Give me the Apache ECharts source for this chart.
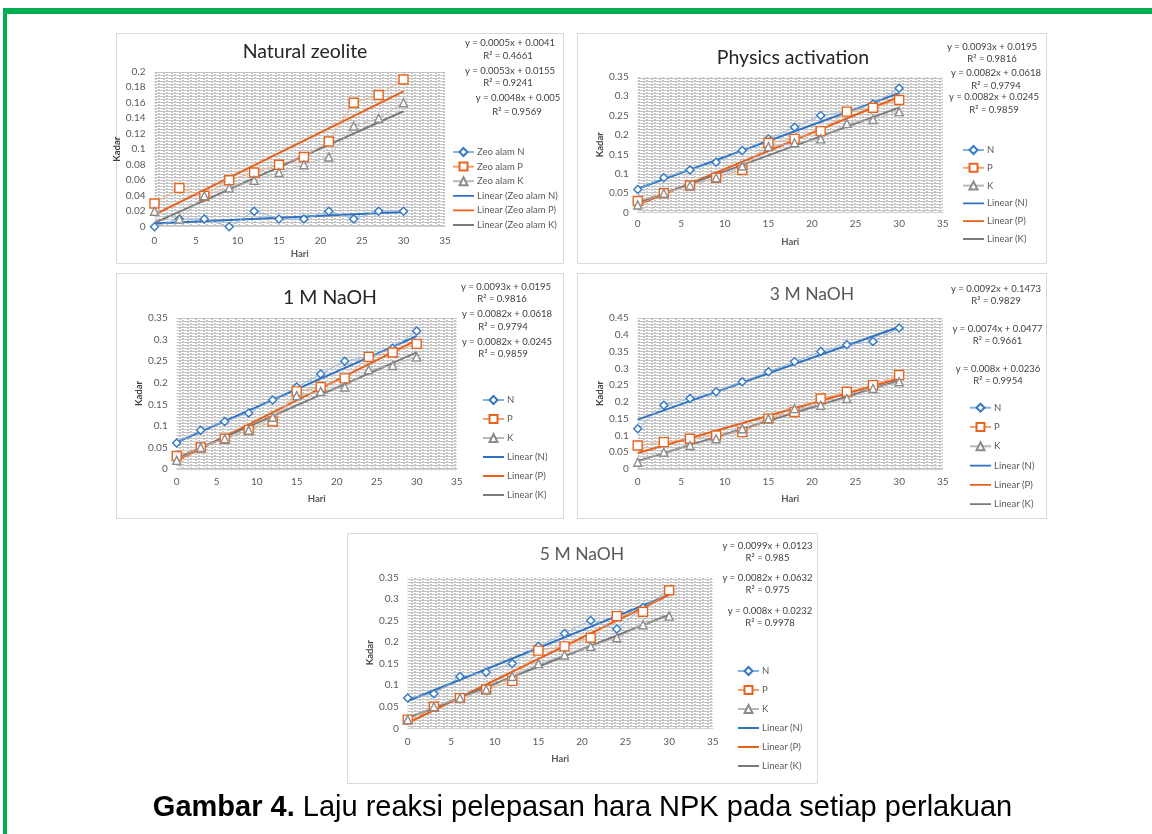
<!DOCTYPE html>
<html><head><meta charset="utf-8">
<script src="https://cdn.jsdelivr.net/npm/echarts@6/dist/echarts.min.js"></script>
<style>html,body{margin:0;padding:0;background:#fff;}#c{width:1152px;height:834px;}</style>
</head><body><div id="c"></div>
<script>
// ---------- DATA ----------
const days = [0, 3, 6, 9, 12, 15, 18, 21, 24, 27, 30];

const zeoN = [0, 0.01, 0.01, 0, 0.02, 0.01, 0.01, 0.02, 0.01, 0.02, 0.02];
const zeoP = [0.03, 0.05, 0.04, 0.06, 0.07, 0.08, 0.09, 0.11, 0.16, 0.17, 0.19];
const zeoK = [0.02, 0.01, 0.04, 0.05, 0.06, 0.07, 0.08, 0.09, 0.13, 0.14, 0.16];

const physN = [0.06, 0.09, 0.11, 0.13, 0.16, 0.19, 0.22, 0.25, 0.26, 0.28, 0.32];
const physP = [0.03, 0.05, 0.07, 0.09, 0.11, 0.18, 0.19, 0.21, 0.26, 0.27, 0.29];
const physK = [0.02, 0.05, 0.07, 0.09, 0.12, 0.17, 0.18, 0.19, 0.23, 0.24, 0.26];

const naoh1N = [0.06, 0.09, 0.11, 0.13, 0.16, 0.19, 0.22, 0.25, 0.26, 0.28, 0.32];
const naoh1P = [0.03, 0.05, 0.07, 0.09, 0.11, 0.18, 0.19, 0.21, 0.26, 0.27, 0.29];
const naoh1K = [0.02, 0.05, 0.07, 0.09, 0.12, 0.17, 0.18, 0.19, 0.23, 0.24, 0.26];

const naoh3N = [0.12, 0.19, 0.21, 0.23, 0.26, 0.29, 0.32, 0.35, 0.37, 0.38, 0.42];
const naoh3P = [0.07, 0.08, 0.09, 0.10, 0.11, 0.15, 0.17, 0.21, 0.23, 0.25, 0.28];
const naoh3K = [0.02, 0.05, 0.07, 0.09, 0.12, 0.15, 0.18, 0.19, 0.21, 0.24, 0.26];

const naoh5N = [0.07, 0.08, 0.12, 0.13, 0.15, 0.19, 0.22, 0.25, 0.23, 0.28, 0.32];
const naoh5P = [0.02, 0.05, 0.07, 0.09, 0.11, 0.18, 0.19, 0.21, 0.26, 0.27, 0.32];
const naoh5K = [0.02, 0.05, 0.07, 0.09, 0.12, 0.15, 0.17, 0.19, 0.21, 0.24, 0.26];

// linear trendline coefficients [slope, intercept]
const zeoTrendN = [0.0005, 0.0041], zeoTrendP = [0.0053, 0.0155], zeoTrendK = [0.0048, 0.005];
const physTrendN = [0.0082, 0.0618], physTrendP = [0.0093, 0.0195], physTrendK = [0.0082, 0.0245];
const naoh1TrendN = [0.0082, 0.0618], naoh1TrendP = [0.0093, 0.0195], naoh1TrendK = [0.0082, 0.0245];
const naoh3TrendN = [0.0092, 0.1473], naoh3TrendP = [0.0074, 0.0477], naoh3TrendK = [0.008, 0.0236];
const naoh5TrendN = [0.0082, 0.0632], naoh5TrendP = [0.0099, 0.0123], naoh5TrendK = [0.008, 0.0232];

const zeoEq = ['y = 0.0005x + 0.0041', 'R² = 0.4661', 'y = 0.0053x + 0.0155', 'R² = 0.9241', 'y = 0.0048x + 0.005', 'R² = 0.9569'];
const physEq = ['y = 0.0093x + 0.0195', 'R² = 0.9816', 'y = 0.0082x + 0.0618', 'R² = 0.9794', 'y = 0.0082x + 0.0245', 'R² = 0.9859'];
const naoh1Eq = ['y = 0.0093x + 0.0195', 'R² = 0.9816', 'y = 0.0082x + 0.0618', 'R² = 0.9794', 'y = 0.0082x + 0.0245', 'R² = 0.9859'];
const naoh3Eq = ['y = 0.0092x + 0.1473', 'R² = 0.9829', 'y = 0.0074x + 0.0477', 'R² = 0.9661', 'y = 0.008x + 0.0236', 'R² = 0.9954'];
const naoh5Eq = ['y = 0.0099x + 0.0123', 'R² = 0.985', 'y = 0.0082x + 0.0632', 'R² = 0.975', 'y = 0.008x + 0.0232', 'R² = 0.9978'];

const titles = ['Natural zeolite', 'Physics activation', '1 M NaOH', '3 M NaOH', '5 M NaOH'];
const zeoNames = ['Zeo alam N', 'Zeo alam P', 'Zeo alam K'];
const npkNames = ['N', 'P', 'K'];
const caption = ['Gambar 4.', ' Laju reaksi pelepasan hara NPK pada setiap perlakuan'];

// ---------- LAYOUT / STYLE ----------
const FONT = 'Lato, "Open Sans", sans-serif';
const markerColors = ['#3478c6', '#e8641e', '#8c8c8c'];
const connColors = ['#86b4e2', '#f2a36d', '#b8b8b8'];
const trendColors = ['#2f72c2', '#e9601a', '#7a7a7a'];
const symbols = ['diamond', 'rect', 'triangle'];
const symSizes = [8, 9, 8];
const LINE_ICON = 'path://M0,0L0.02,0L0,0.02Z M0,4.1L21,4.1L21,5.9L0,5.9Z M21,10L20.98,10L21,9.98Z';

const panels = [
  { names: zeoNames, data: [zeoN, zeoP, zeoK], trends: [zeoTrendN, zeoTrendP, zeoTrendK], eq: zeoEq,
    ymax: 0.2, yint: 0.02, box: [116, 33, 447, 230], grid: [154.5, 71.7, 290.5, 155],
    title: [305, 52, 19.5, '#262626'], legend: [447, 142, 4.6],
    eqPos: [[510, 43.3], [508, 56], [510, 70.7], [508, 83.3], [518, 98.3], [517, 111.7]],
    xm: 9, hg: 22, kg: 24 },
  { names: npkNames, data: [physN, physP, physK], trends: [physTrendN, physTrendP, physTrendK], eq: physEq,
    ymax: 0.35, yint: 0.05, box: [577, 33, 469, 230], grid: [637.7, 76.7, 305, 136],
    title: [793, 58, 19.5, '#262626'], legend: [957, 140, 7.8],
    eqPos: [[992, 46.7], [992, 59], [996, 73], [996, 85.7], [994, 96.7], [994, 110]],
    xm: 6, hg: 24, kg: 33 },
  { names: npkNames, data: [naoh1N, naoh1P, naoh1K], trends: [naoh1TrendN, naoh1TrendP, naoh1TrendK], eq: naoh1Eq,
    ymax: 0.35, yint: 0.05, box: [116, 273, 447, 245], grid: [176.7, 318, 280, 151],
    title: [330, 298, 19.5, '#262626'], legend: [477, 390, 9],
    eqPos: [[506, 286.7], [502, 299], [507, 314], [503, 326.7], [507, 341.7], [503, 354]],
    xm: 8, hg: 25, kg: 33 },
  { names: npkNames, data: [naoh3N, naoh3P, naoh3K], trends: [naoh3TrendN, naoh3TrendP, naoh3TrendK], eq: naoh3Eq,
    ymax: 0.45, yint: 0.05, box: [577, 273, 469, 245], grid: [637.7, 318, 305, 151],
    title: [812, 294, 17.5, '#595959'], legend: [964, 397.7, 9.3],
    eqPos: [[996, 289], [996, 301], [997.5, 329.3], [997.5, 341], [998, 369.3], [998, 380.7]],
    xm: 8, hg: 25, kg: 33 },
  { names: npkNames, data: [naoh5N, naoh5P, naoh5K], trends: [naoh5TrendN, naoh5TrendP, naoh5TrendK], eq: naoh5Eq,
    ymax: 0.35, yint: 0.05, box: [347, 533, 470, 250], grid: [407.7, 577.3, 305, 151],
    title: [582, 554, 17.5, '#595959'], legend: [732, 661, 9],
    eqPos: [[767.5, 546], [767.5, 558.3], [767.5, 577.7], [767.5, 590], [770, 610.7], [770, 622.7]],
    xm: 8, hg: 26, kg: 33 }
];

function makePattern() {
  const c = document.createElement('canvas');
  c.width = 8; c.height = 3;
  const ctx = c.getContext('2d');
  ctx.fillStyle = '#ffffff'; ctx.fillRect(0, 0, 8, 3);
  for (let y = 0; y < 3; y++) for (let x = 0; x < 8; x++) {
    if (y === 0) { ctx.fillStyle = '#c2c2c2'; ctx.fillRect(x, y, 1, 1); }
    else if (((x - 3 * y) % 8 + 8) % 8 < 2) { ctx.fillStyle = '#c8c8c8'; ctx.fillRect(x, y, 1, 1); }
  }
  return c;
}
const pattern = makePattern();

const grids = [], xAxes = [], yAxes = [], series = [], legends = [], graphics = [];

// green frame
graphics.push({ type: 'rect', shape: { x: 3, y: 8, width: 1149, height: 6 }, style: { fill: '#00ae4f' }, z: 10 });
graphics.push({ type: 'rect', shape: { x: 3, y: 8, width: 4, height: 826 }, style: { fill: '#00ae4f' }, z: 10 });

panels.forEach((p, i) => {
  graphics.push({ type: 'rect', shape: { x: p.box[0] + 0.5, y: p.box[1] + 0.5, width: p.box[2], height: p.box[3] },
    style: { fill: 'none', stroke: '#d9d9d9', lineWidth: 1 }, z: 0 });
  graphics.push({ type: 'text', x: p.title[0], y: p.title[1], z: 5,
    style: { text: titles[i], align: 'center', verticalAlign: 'middle', fontSize: p.title[2], fontFamily: FONT, fill: p.title[3] } });
  p.eq.forEach((t, k) => {
    graphics.push({ type: 'text', x: p.eqPos[k][0], y: p.eqPos[k][1], z: 5,
      style: { text: t, align: 'center', verticalAlign: 'middle', fontSize: 9.5, fontFamily: FONT, fill: '#404040' } });
  });

  grids.push({ left: p.grid[0], top: p.grid[1], width: p.grid[2], height: p.grid[3], show: true,
    backgroundColor: { image: pattern, repeat: 'repeat' }, borderWidth: 0 });
  xAxes.push({ type: 'value', gridIndex: i, min: 0, max: 35, interval: 5,
    axisLine: { show: true, lineStyle: { color: '#d0d0d0', width: 1 } }, axisTick: { show: false }, splitLine: { show: false },
    axisLabel: { color: '#595959', fontSize: 10, fontFamily: FONT, margin: p.xm },
    name: 'Hari', nameLocation: 'middle', nameGap: p.hg,
    nameTextStyle: { fontWeight: 'bold', fontSize: 9.5, color: '#595959', fontFamily: FONT } });
  yAxes.push({ type: 'value', gridIndex: i, min: 0, max: p.ymax, interval: p.yint,
    axisLine: { show: false }, axisTick: { show: false }, splitLine: { show: false },
    axisLabel: { color: '#595959', fontSize: 10, fontFamily: FONT, margin: 9 },
    name: 'Kadar', nameLocation: 'middle', nameGap: p.kg,
    nameTextStyle: { fontWeight: 'bold', fontSize: 9.5, color: '#404040', fontFamily: FONT } });

  const legendItems = [];
  p.names.forEach((nm, j) => {
    series.push({ type: 'line', name: nm, xAxisIndex: i, yAxisIndex: i, z: 3,
      data: days.map((d, k) => [d, p.data[j][k]]),
      symbol: symbols[j], symbolSize: symSizes[j],
      itemStyle: { color: '#ffffff', borderColor: markerColors[j], borderWidth: 1.4 },
      lineStyle: { color: connColors[j], width: 0.8 }, animation: false });
    legendItems.push({ name: nm });
  });
  p.names.forEach((nm, j) => {
    const tName = 'Linear (' + nm + ')';
    const c = p.trends[j];
    const x0 = days[0], x1 = days[days.length - 1];
    series.push({ type: 'line', name: tName, xAxisIndex: i, yAxisIndex: i, z: 2,
      data: [[x0, c[0] * x0 + c[1]], [x1, c[0] * x1 + c[1]]],
      symbol: 'none', itemStyle: { color: trendColors[j] },
      lineStyle: { color: trendColors[j], width: 2 }, animation: false });
    legendItems.push({ name: tName, icon: LINE_ICON, itemStyle: { color: trendColors[j], borderWidth: 0 } });
  });
  legends.push({ orient: 'vertical', left: p.legend[0], top: p.legend[1], itemGap: p.legend[2],
    itemWidth: 21, itemHeight: 10, selectedMode: false, data: legendItems,
    textStyle: { fontSize: 9.5, color: '#595959', fontFamily: FONT, padding: [0, 0, 0, -2] } });
});

graphics.push({ type: 'text', x: 582.5, y: 808, z: 5,
  style: { text: '{b|' + caption[0] + '}' + caption[1], align: 'center', verticalAlign: 'middle',
    fontSize: 29, fontFamily: '"Liberation Sans", Arial, sans-serif', fill: '#000',
    rich: { b: { fontWeight: 'bold', fontSize: 29, fontFamily: '"Liberation Sans", Arial, sans-serif', fill: '#000' } } } });

const chart = echarts.init(document.getElementById('c'), null, { renderer: 'canvas' });
chart.setOption({
  animation: false,
  backgroundColor: '#ffffff',
  grid: grids, xAxis: xAxes, yAxis: yAxes, series: series, legend: legends,
  graphic: { elements: graphics }
});
</script></body></html>
